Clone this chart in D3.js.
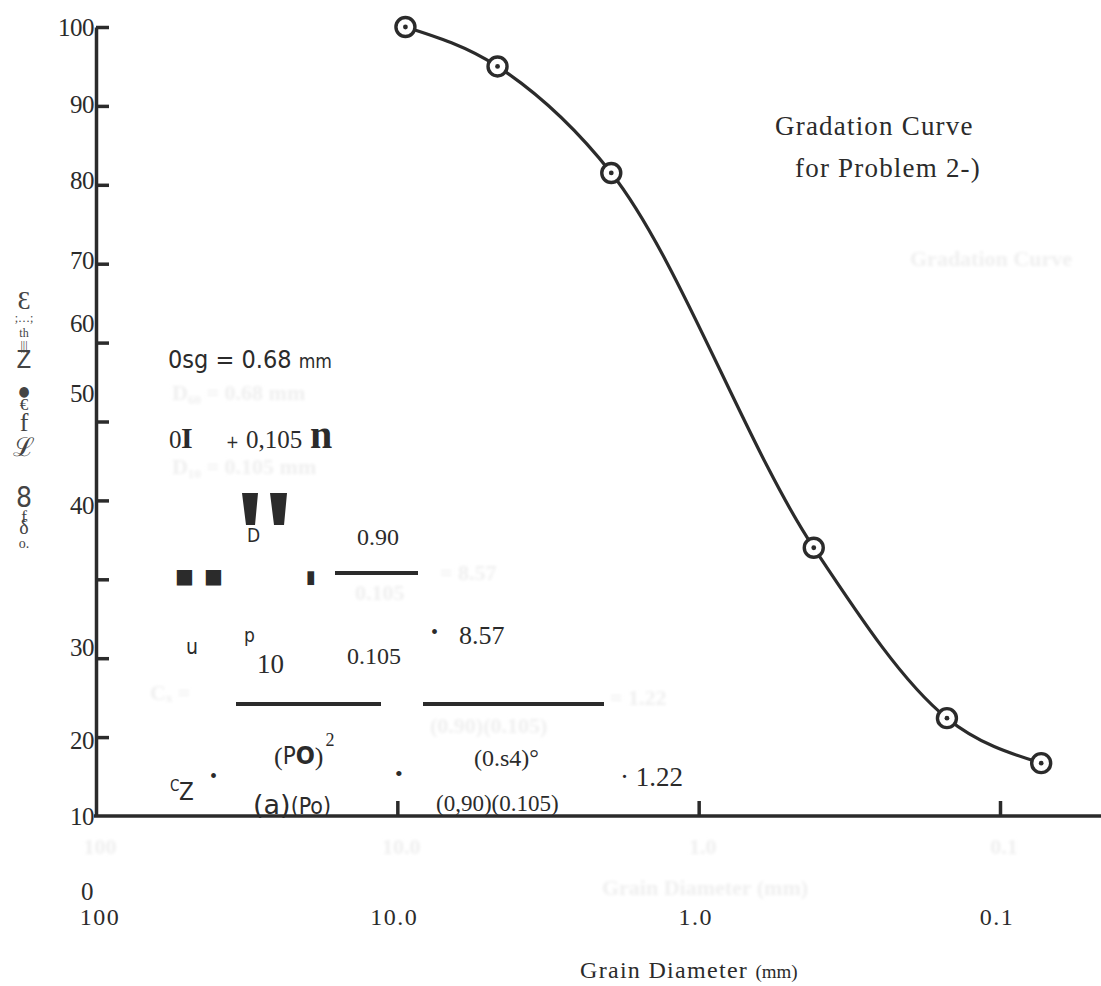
<!DOCTYPE html>
<html>
<head>
<meta charset="utf-8">
<script src="https://cdn.jsdelivr.net/npm/d3@7"></script>
<style>
  body { margin: 0; background: #fff; }
  svg { display: block; }
  .serif { font-family: "Liberation Serif", "DejaVu Serif", serif; }
  .sans { font-family: "DejaVu Sans Condensed", "DejaVu Sans", sans-serif; }
</style>
</head>
<body>
<svg width="1101" height="986"></svg>
<script>
// gradation curve data (sieve size in mm, percent finer)
const sieveSize = [9.4, 4.65, 1.95, 0.415, 0.15, 0.073];
const percentFiner = [100, 95, 81.5, 34, 12.4, 6.7];

const xTickValues = [10, 1, 0.1];
const xLabelValues = [100, 10, 1, 0.1];
const xLabels = ["100", "10.0", "1.0", "0.1"];

const yTickValues = [10, 20, 30, 40, 50, 60, 70, 80, 90, 100];
const yLabels = ["100", "90", "80", "70", "60", "50", "40", "30", "20", "10", "0"];
// where each (scanned) label sits, in percent units
const yLabelAt = [100, 90.2, 80.6, 70.5, 62.5, 53.6, 39.4, 21.4, 9.6, 0, -9.6];

const ink = "#2b2b2b";
const ghost = "#efefef";

const svg = d3.select("svg");
const width = +svg.attr("width");
const height = +svg.attr("height");

const x = d3.scaleLog().domain([100, 0.1]).range([96, 1000]);
const y = d3.scaleLinear().domain([0, 100]).range([816, 27]);

svg.append("rect").attr("width", width).attr("height", height).attr("fill", "#fff");

const blur = svg.append("defs").append("filter").attr("id", "blur");
blur.append("feGaussianBlur").attr("stdDeviation", 1.8);

// faint show-through text from the scan
const gh = svg.append("g").attr("filter", "url(#blur)").attr("fill", ghost)
  .attr("class", "serif").style("font-weight", "bold").style("font-size", "22px");
gh.selectAll("text.gx")
  .data(xLabelValues)
  .join("text")
  .attr("x", d => x(d) + 4)
  .attr("y", 854)
  .attr("text-anchor", "middle")
  .text((d, i) => xLabels[i]);
gh.append("text").attr("x", 705).attr("y", 895).attr("text-anchor", "middle").text("Grain Diameter (mm)");
gh.append("text").attr("x", 172).attr("y", 400).text("D\u2086\u2080 = 0.68 mm");
gh.append("text").attr("x", 172).attr("y", 474).text("D\u2081\u2080 = 0.105 mm");
gh.append("text").attr("x", 355).attr("y", 600).text("0.105");
gh.append("text").attr("x", 440).attr("y", 580).text("= 8.57");
gh.append("text").attr("x", 150).attr("y", 700).text("C\u2093 =");
gh.append("text").attr("x", 610).attr("y", 705).text("= 1.22");
gh.append("text").attr("x", 430).attr("y", 733).text("(0.90)(0.105)");
gh.append("text").attr("x", 910).attr("y", 266).text("Gradation Curve");

// y axis
const yAxis = svg.append("g")
  .attr("transform", `translate(${x(100)},0)`)
  .call(d3.axisLeft(y).tickValues(yTickValues).tickSize(-13).tickSizeOuter(0).tickFormat(""));
yAxis.selectAll("path, line").attr("stroke", ink).attr("stroke-width", 3.5);

// x axis
const xAxis = svg.append("g")
  .attr("transform", `translate(0,${y(0)})`)
  .call(d3.axisBottom(x).tickValues(xTickValues).tickSize(-15).tickSizeOuter(0).tickFormat(""));
xAxis.select("path").remove();
xAxis.selectAll("line").attr("stroke", ink).attr("stroke-width", 3.5);
svg.append("line")
  .attr("x1", x(100) - 2).attr("x2", width)
  .attr("y1", y(0)).attr("y2", y(0))
  .attr("stroke", ink).attr("stroke-width", 3.5);

// y labels
svg.append("g").attr("class", "serif")
  .selectAll("text")
  .data(yLabels)
  .join("text")
  .attr("x", (d, i) => i === 10 ? 93 : 94)
  .attr("y", (d, i) => y(yLabelAt[i]))
  .attr("dy", "0.35em")
  .attr("text-anchor", "end")
  .attr("fill", ink)
  .style("font-size", "25px")
  .style("letter-spacing", "-0.5px")
  .text(d => d);

// x labels
svg.append("g").attr("class", "serif")
  .selectAll("text")
  .data(xLabelValues)
  .join("text")
  .attr("x", d => x(d) + (d === 100 ? 4 : -3))
  .attr("y", 925)
  .attr("text-anchor", "middle")
  .attr("fill", ink)
  .style("font-size", "24px")
  .style("letter-spacing", "1.5px")
  .text((d, i) => xLabels[i]);

svg.append("text").attr("class", "serif")
  .attr("x", 580).attr("y", 978)
  .attr("fill", ink).style("font-size", "24px").style("letter-spacing", "1.3px")
  .text("Grain Diameter ")
  .append("tspan").style("font-size", "19px").style("letter-spacing", "0px").text("(mm)");

// curve
const pts = sieveSize.map((d, i) => [x(d), y(percentFiner[i])]);
svg.append("path")
  .attr("d", d3.line().curve(d3.curveMonotoneX)(pts))
  .attr("fill", "none")
  .attr("stroke", ink)
  .attr("stroke-width", 3.2);

const marks = svg.append("g").selectAll("g")
  .data(pts)
  .join("g")
  .attr("transform", d => `translate(${d[0]},${d[1]})`);
marks.append("circle").attr("r", 9.5).attr("fill", "#fff").attr("stroke", ink).attr("stroke-width", 3.4);
marks.append("circle").attr("r", 2.4).attr("fill", ink);

// title note
const title = svg.append("g").attr("class", "serif").attr("fill", ink)
  .style("font-size", "27px").style("letter-spacing", "1.2px");
title.append("text").attr("x", 775).attr("y", 135).text("Gradation Curve");
title.append("text").attr("x", 795).attr("y", 177).text("for Problem 2-)");

// scanned formula block (as printed)
const note = svg.append("g").attr("fill", ink);
function put(txt, px, py, size, cls, extra) {
  const t = note.append("text").attr("class", cls).attr("x", px).attr("y", py)
    .style("font-size", size + "px").text(txt);
  if (extra) extra(t);
  return t;
}

put("0sg = 0.68 ", 168, 368, 25, "sans").append("tspan").style("font-size", "19px").text("mm");

put("0", 169, 448, 25, "serif");
put("I", 181, 448, 30, "serif", t => t.style("font-weight", "bold"));
put("+", 226, 448, 17, "sans");
put("0,105", 246, 448, 25, "serif");
put("n", 310, 448, 40, "serif", t => t.style("font-weight", "bold"));

// the two heavy tapered quote blobs of the scan
[[242, 258, 246, 255], [270, 287, 274, 284]].forEach(q => {
  note.append("path")
    .attr("d", `M${q[0]},493L${q[1]},493L${q[3]},525L${q[2]},525Z`)
    .attr("fill", ink);
});
put("D", 247, 542, 19, "sans");
put("0.90", 357, 545, 24, "serif");
put("\u25a0", 175, 583, 20, "sans", t => t.style("font-family", "DejaVu Sans"));
put("\u25a0", 204, 583, 20, "sans", t => t.style("font-family", "DejaVu Sans"));
put("\u25ae", 306, 583, 18, "sans", t => t.style("font-family", "DejaVu Sans"));
note.append("line").attr("x1", 335).attr("x2", 418).attr("y1", 573).attr("y2", 573)
  .attr("stroke", ink).attr("stroke-width", 4);

put("u", 186, 654, 21, "sans");
put("p", 244, 642, 19, "sans");
put("10", 257, 673, 27, "serif");
put("0.105", 347, 664, 24, "serif");
put("\u2022", 431, 639, 20, "serif");
put("8.57", 459, 644, 26, "serif");

note.append("line").attr("x1", 236).attr("x2", 381).attr("y1", 704).attr("y2", 704)
  .attr("stroke", ink).attr("stroke-width", 4);
note.append("line").attr("x1", 423).attr("x2", 604).attr("y1", 704).attr("y2", 704)
  .attr("stroke", ink).attr("stroke-width", 4);

const po = put("(", 274, 765, 26, "serif");
po.append("tspan").attr("class", "sans").style("font-size", "24px").attr("dy", -1).text("P");
po.append("tspan").attr("class", "sans").style("font-size", "25px").style("font-weight", "bold").text("O");
po.append("tspan").attr("dy", 1).text(")");
po.append("tspan").style("font-size", "18px").attr("dx", 2).attr("dy", -19).text("2");
put("(0.s4)\u00b0", 474, 766, 24, "serif");

put("C", 170, 791, 15, "sans");
put("Z", 179, 800, 24, "sans");
put("\u2022", 210, 783, 20, "serif");
put("\u2022", 395, 781, 22, "serif");
put("\u00b7 1.22", 620, 786, 27, "serif");
const apo = put("(a)", 253, 814, 27, "sans", t => t.style("font-family", "DejaVu Sans"));
apo.append("tspan").style("font-size", "23px").style("font-family", "DejaVu Sans Condensed").text("(Po)");
put("(0,90)(0.105)", 436, 811, 23, "serif");

// rotated axis title, as it came out of the scan (one stacked text)
const side = [
  ["\u0190", 309, 26, "serif"],
  [";\u2026;", 322, 12, "serif"],
  ["th", 337, 12, "serif"],
  ["|||", 350, 12, "serif"],
  ["Z", 368, 24, "sans"],
  ["\u25cf", 396, 14, "sans"],
  ["\u20ac", 410, 17, "serif"],
  ["f", 431, 26, "serif"],
  ["\u2112", 456, 26, "serif"],
  ["8", 507, 28, "sans"],
  ["f", 522, 17, "serif"],
  ["\u03b4", 534, 20, "serif"],
  ["o.", 548, 14, "serif"]
];
svg.append("text").attr("fill", "#444").attr("text-anchor", "middle")
  .selectAll("tspan")
  .data(side)
  .join("tspan")
  .attr("class", d => d[3])
  .attr("x", 24)
  .attr("y", d => d[1])
  .style("font-size", d => d[2] + "px")
  .text(d => d[0]);
</script>
</body>
</html>
